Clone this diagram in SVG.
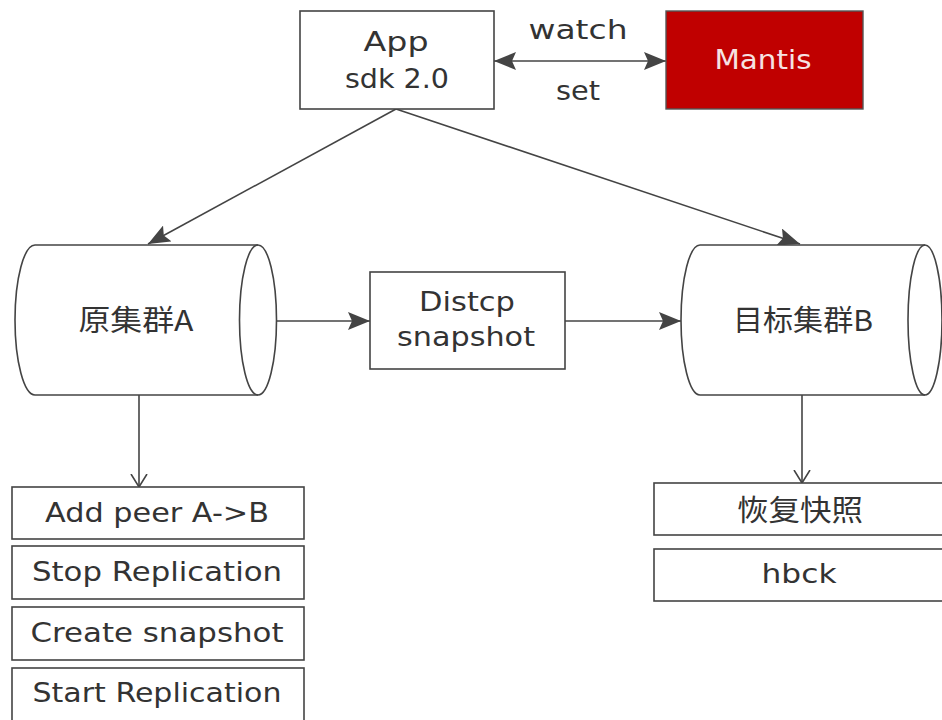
<svg xmlns="http://www.w3.org/2000/svg" width="942" height="720" viewBox="0 0 942 720">
<defs>
<style>
.box{fill:#ffffff;stroke:#444444;stroke-width:1.6}
.cyl{fill:#ffffff;stroke:#444444;stroke-width:1.6}
.edge{fill:none;stroke:#444444;stroke-width:1.6}
.t{font-family:"DejaVu Sans","Noto Sans CJK SC",sans-serif;font-size:27px;fill:#333333;text-anchor:middle}
.cjk{font-family:"Noto Sans CJK SC","DejaVu Sans",sans-serif;font-size:29px;fill:#333333;text-anchor:middle}
</style>
<marker id="fa" viewBox="0 0 22 18" refX="22" refY="9" markerWidth="22" markerHeight="18" markerUnits="userSpaceOnUse" orient="auto-start-reverse">
<path d="M0,0 L22,9 L0,18 L4,9 Z" fill="#444444"/>
</marker>
<marker id="oa" viewBox="0 0 14 18" refX="13" refY="9" markerWidth="14" markerHeight="18" markerUnits="userSpaceOnUse" orient="auto">
<path d="M0,1 L13,9 L0,17" fill="none" stroke="#444444" stroke-width="1.6"/>
</marker>
</defs>
<rect width="942" height="720" fill="#ffffff"/>

<g id="connectors">
<line class="edge" x1="494" y1="61" x2="666" y2="61" marker-start="url(#fa)" marker-end="url(#fa)"/>
<line class="edge" x1="396" y1="109" x2="148" y2="244" marker-end="url(#fa)"/>
<line class="edge" x1="396" y1="109" x2="800" y2="244" marker-end="url(#fa)"/>
<line class="edge" x1="258" y1="321" x2="370" y2="321" marker-end="url(#fa)"/>
<line class="edge" x1="565" y1="321" x2="681" y2="321" marker-end="url(#fa)"/>
<line class="edge" x1="139" y1="395" x2="139" y2="487" marker-end="url(#oa)"/>
<line class="edge" x1="802" y1="395" x2="802" y2="483" marker-end="url(#oa)"/>
<text class="t" x="578" y="39" textLength="99" lengthAdjust="spacingAndGlyphs">watch</text>
<text class="t" x="578" y="100" textLength="44" lengthAdjust="spacingAndGlyphs">set</text>
</g>

<g id="app">
<rect class="box" x="300" y="11" width="194" height="98"/>
<text class="t" x="396" y="51" textLength="65" lengthAdjust="spacingAndGlyphs">App</text>
<text class="t" x="397" y="88" textLength="104" lengthAdjust="spacingAndGlyphs">sdk 2.0</text>
</g>

<g id="mantis">
<rect x="666" y="11" width="197" height="98" fill="#c00000" stroke="#555555" stroke-width="1.4"/>
<text class="t" x="763" y="69" style="fill:#f6e2e2" textLength="97" lengthAdjust="spacingAndGlyphs">Mantis</text>
</g>

<g id="clusterA">
<path class="cyl" d="M35,245 L258,245 A18.5,75 0 0 1 258,395 L35,395 A20,75 0 0 1 35,245 Z"/>
<path class="edge" d="M258,395 A18.5,75 0 0 1 258,245"/>
<text class="cjk" x="136" y="331" textLength="115" lengthAdjust="spacingAndGlyphs">原集群A</text>
</g>

<g id="distcp">
<rect class="box" x="370" y="272" width="195" height="97"/>
<text class="t" x="467" y="311" textLength="96" lengthAdjust="spacingAndGlyphs">Distcp</text>
<text class="t" x="466" y="346" textLength="138" lengthAdjust="spacingAndGlyphs">snapshot</text>
</g>

<g id="clusterB">
<path class="cyl" d="M700,245 L925,245 A17,75 0 0 1 925,395 L700,395 A19,75 0 0 1 700,245 Z"/>
<path class="edge" d="M925,395 A17,75 0 0 1 925,245"/>
<text class="cjk" x="803" y="331" textLength="140" lengthAdjust="spacingAndGlyphs">目标集群B</text>
</g>

<g id="stepA1">
<rect class="box" x="12" y="487" width="292" height="52"/>
<text class="t" x="157" y="522" textLength="224" lengthAdjust="spacingAndGlyphs">Add peer A-&gt;B</text>
</g>
<g id="stepA2">
<rect class="box" x="12" y="546" width="292" height="53"/>
<text class="t" x="157" y="581" textLength="250" lengthAdjust="spacingAndGlyphs">Stop Replication</text>
</g>
<g id="stepA3">
<rect class="box" x="12" y="607" width="292" height="53"/>
<text class="t" x="157" y="642" textLength="253" lengthAdjust="spacingAndGlyphs">Create snapshot</text>
</g>
<g id="stepA4">
<rect class="box" x="12" y="668" width="292" height="54"/>
<text class="t" x="157" y="702" textLength="249" lengthAdjust="spacingAndGlyphs">Start Replication</text>
</g>

<g id="stepB1">
<rect class="box" x="654" y="483" width="292" height="52"/>
<text class="cjk" x="800" y="521" textLength="126" lengthAdjust="spacingAndGlyphs">恢复快照</text>
</g>
<g id="stepB2">
<rect class="box" x="654" y="549" width="292" height="52"/>
<text class="t" x="799" y="583" textLength="75" lengthAdjust="spacingAndGlyphs">hbck</text>
</g>
</svg>
